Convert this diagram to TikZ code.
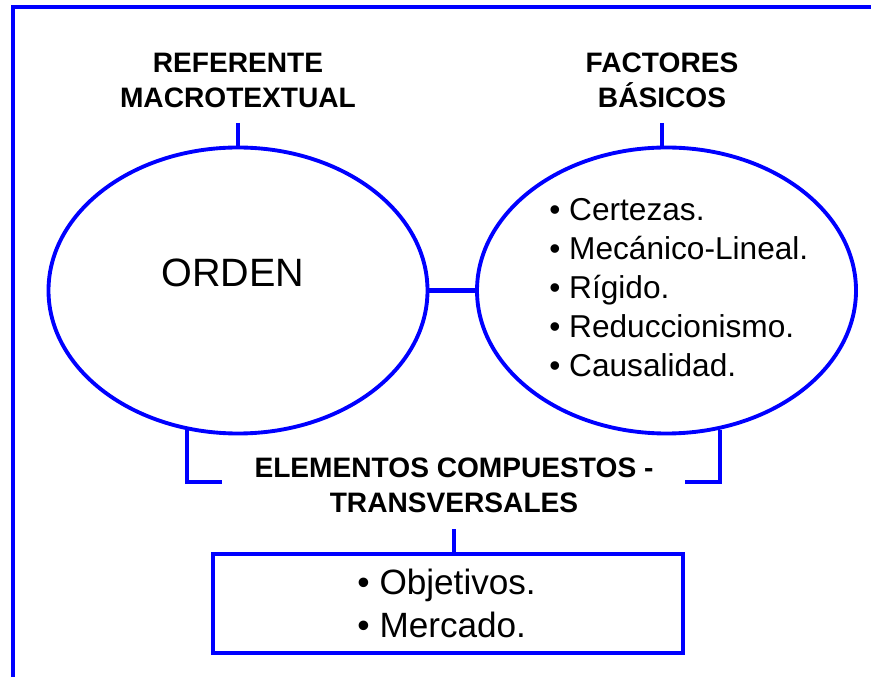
\documentclass[tikz,border=0pt]{standalone}
\usepackage{fontspec}
\setmainfont{Liberation Sans}
\usepackage{tikz}
\usetikzlibrary{shapes.geometric}

\begin{document}
\begin{tikzpicture}[
	oval/.style={draw=blue,line width=2.2pt,ellipse,minimum width=7.58cm,minimum height=5.72cm,inner sep=0pt},
	link/.style={draw=blue,line width=2.4pt},
	heading/.style={font=\bfseries\fontsize{16}{20}\selectfont,align=center,inner xsep=0pt,inner ysep=8.5pt}
]
\useasboundingbox (0,0) rectangle (17.42,13.54);
\draw[blue,line width=2.4pt] (0.26,0) |- (17.42,13.4);

\node[oval] (orden) at (4.76,7.73) {};
\node[oval] (factores) at (13.33,7.73) {};
\node[font=\fontsize{22.5}{27}\selectfont] (ordentext) at (4.66,8.09) {ORDEN};
\node[anchor=west,inner sep=0pt,align=left,font=\fontsize{18}{22.3}\selectfont] (lista) at (10.98,7.79)
	{\textbullet\ Certezas.\\\textbullet\ Mecánico-Lineal.\\\textbullet\ Rígido.\\\textbullet\ Reduccionismo.\\\textbullet\ Causalidad.};

\node[heading,anchor=south] (ref) at (4.76,11.08) {REFERENTE\\MACROTEXTUAL};
\node[heading,anchor=south] (fac) at (13.24,11.08) {FACTORES\\BÁSICOS};
\draw[link] (ref.south) -- (ref.south |- orden.north);
\draw[link] (fac.south) -- (fac.south |- factores.north);
\draw[link] (orden.east) -- (factores.west);

\coordinate (bendL) at (4.44,3.9);
\coordinate (bendR) at (13.7,3.9);
\draw[link] (orden.250) |- (bendL);
\draw[link] (factores.291) |- (bendR);

\node[heading,inner ysep=9pt] (comp) at (9.08,3.83) {ELEMENTOS COMPUESTOS -\\TRANSVERSALES};
\node[draw=blue,line width=2.4pt,minimum width=9.4cm,minimum height=1.98cm,align=left,font=\fontsize{20}{24.5}\selectfont] (box) at (8.96,1.47)
	{\textbullet\ Objetivos.\\\textbullet\ Mercado.\hspace*{0.25cm}};
\draw[link] (comp.south) -- (comp.south |- box.north);

\end{tikzpicture}
\end{document}
